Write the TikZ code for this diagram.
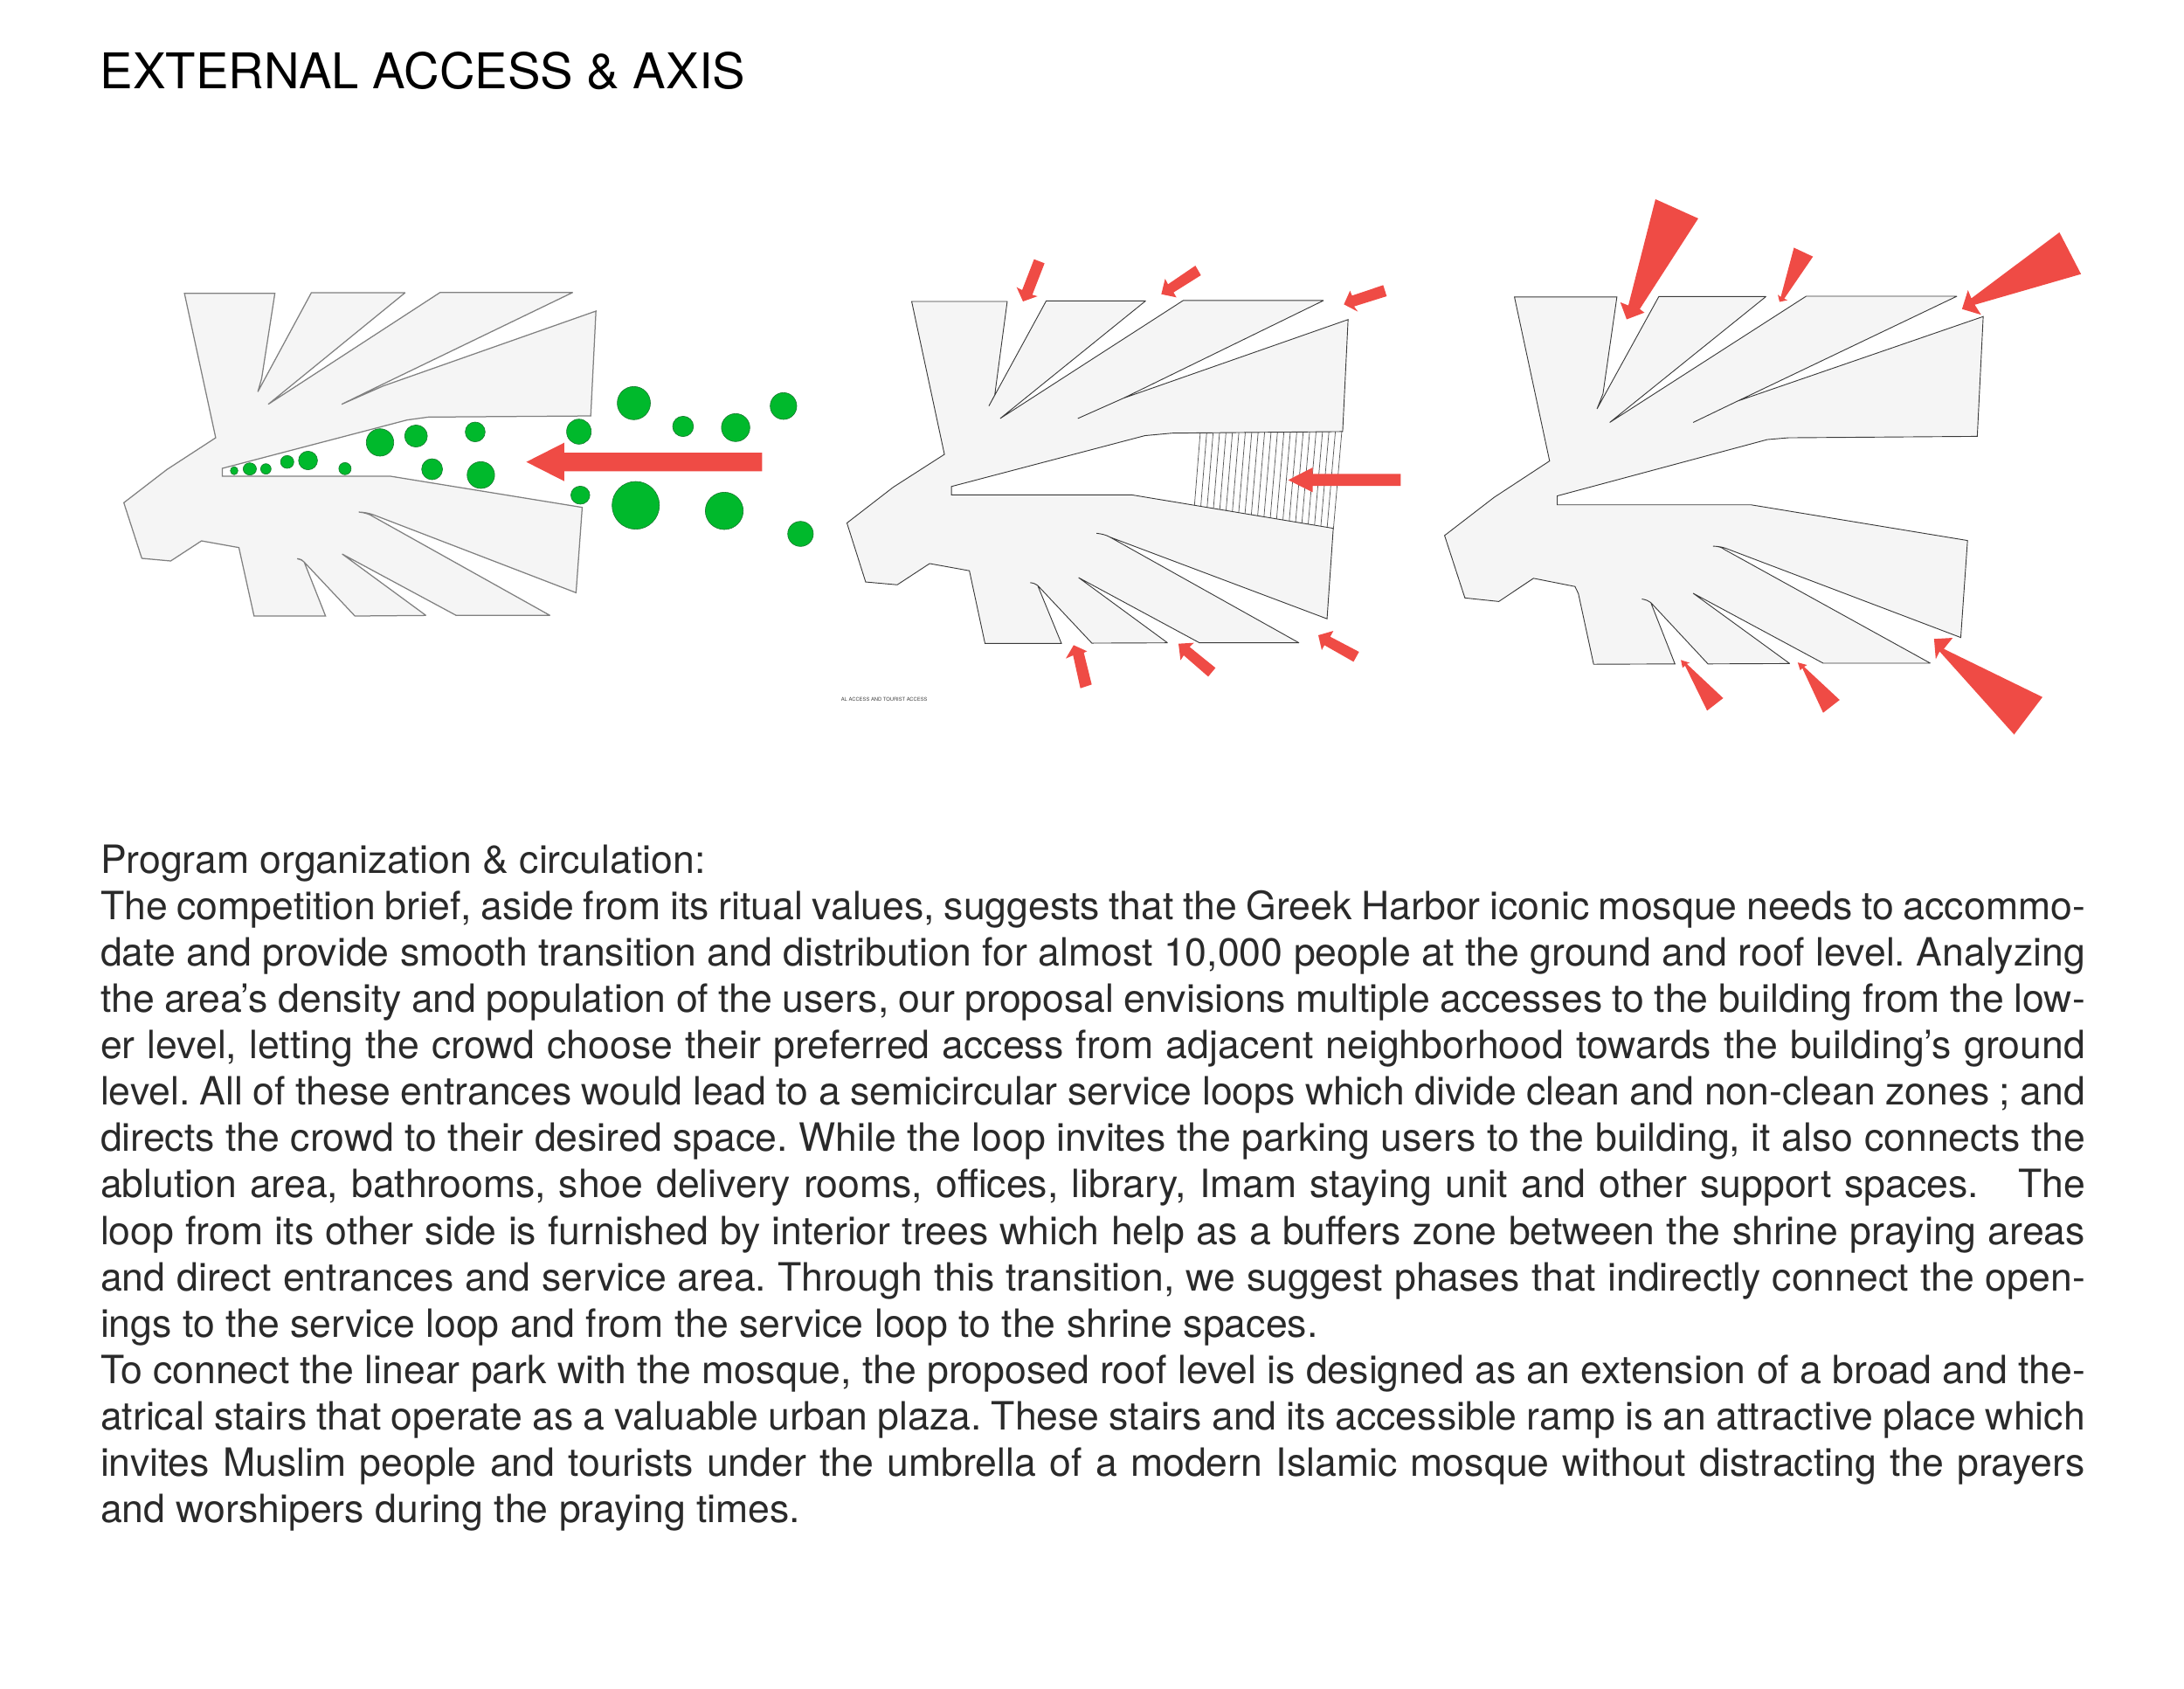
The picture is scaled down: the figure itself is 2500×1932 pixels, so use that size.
\documentclass[tikz,border=0pt]{standalone}
\usepackage{fontspec}
\setmainfont{TeX Gyre Heros}
\definecolor{planfill}{HTML}{F5F5F5}
\definecolor{planlinea}{HTML}{808080}
\definecolor{planlineb}{HTML}{3A3A3A}
\definecolor{hatchgrey}{HTML}{5A5A5A}
\definecolor{redarrow}{HTML}{EF4B45}
\definecolor{greendot}{HTML}{00B92C}
\definecolor{greenedge}{HTML}{157A2E}
\definecolor{bodyink}{HTML}{2A2A2A}
\tikzset{
  plana/.style={fill=planfill,draw=planlinea,line width=0.3pt,line join=miter,miter limit=2},
  planb/.style={fill=planfill,draw=planlineb,line width=0.22pt,line join=miter,miter limit=2},
  hatchline/.style={draw=hatchgrey,line width=0.18pt},
  redshape/.style={fill=redarrow,draw=none},
  dot/.style={fill=greendot,draw=greenedge,line width=0.15pt},
  bodyline/.style={anchor=base west,inner sep=0pt,outer sep=0pt,text=bodyink,font=\fontsize{10.7}{12.7}\selectfont\frenchspacing},
}
\newcommand{\jline}[2]{\node[bodyline] (line#1) at ({115},{999.2+53.1*(#1-1)}) {\makebox[545.28pt][s]{#2}};}
\newcommand{\fline}[2]{\node[bodyline] (line#1) at ({115},{999.2+53.1*(#1-1)}) {#2};}
\begin{document}
\begin{tikzpicture}[x=0.24pt,y=-0.24pt]
\useasboundingbox (0,0) rectangle (2500,1932);
\node[anchor=base west,inner sep=0pt,font=\fontsize{13.5}{16}\selectfont,text=black] (title) at (114,101) {EXTERNAL ACCESS \& AXIS};

% panel 1
\begin{scope}[shift={(100,300)},x=0.13010pt,y=-0.08pt]
\draw[plana] (205,107) -- (396,107) -- (368,400) -- (360,445) -- (473,105) -- (671,105) -- (382,488) -- (745,104) -- (1025,104)
 -- (610,430) -- (537,488) -- (625,425) -- (1074,168) -- (1063,528) -- (720,532) -- (675,542) -- (285,708) -- (285,735) -- (640,735)
 -- (1045,842) -- (1032,1135) -- (605,868) .. controls (595,862) and (585,859) .. (573,858) .. controls (585,860) and (595,864) .. (605,875)
 -- (977,1213) -- (779,1213) -- (538,1002) -- (715,1213) -- (565,1215) -- (458,1030) .. controls (453,1022) and (448,1020) .. (443,1018) .. controls (450,1020) and (455,1022) .. (458,1030)
 -- (503,1215) -- (352,1215) -- (320,980) -- (241,957) -- (176,1026) -- (115,1017) -- (77,826) -- (168,712) -- (271,603) -- cycle;
\foreach \cx/\cy/\rx/\ry in {1154/484/35/57,1470/494/28/46,1258/564/22/35,1369/568/30/48,1038/582/26/43,819/583/21/34,694/597/24/38,618/619/29/47,466/681/20/32,422/686/14/22,343/710/14/21,377/710/11/18,310/716/8/14,544/709/13/21,728/711/22/36,831/731/29/46,1041/800/20/31,1158/835/50/82,1345/854/40/64,1506/933/27/43}
  \draw[dot] (\cx,\cy) ellipse [x radius=\rx,y radius=\ry];
\fill[redshape] (1425,654) -- (1007,654) -- (1007,620) -- (927,686) -- (1007,752) -- (1007,718) -- (1425,718) -- cycle;
\end{scope}

% panel 2 hatching
\foreach \i in {0,...,22}
  \draw[hatchline] ({1374+7.36*\i},494) -- ({1367.3+7.23*\i},{578.3+0.168*7.23*\i});

% panel 2
\begin{scope}[shift={(940,270)},x=0.107143pt,y=-0.085714pt]
\draw[planb] (232,210) -- (477,210) -- (445,510) -- (430,545) -- (577,208) -- (832,208) -- (459,585) -- (928,207) -- (1288,207)
 -- (775,520) -- (658,585) -- (775,520) -- (1351,268) -- (1337,627) -- (900,632) -- (830,640) -- (334,803) -- (334,830) -- (797,830)
 -- (1313,937) -- (1297,1227) -- (740,965) .. controls (730,958) and (720,955) .. (706,953) .. controls (720,955) and (730,958) .. (740,965)
 -- (1225,1304) -- (970,1304) -- (660,1095) -- (888,1304) -- (694,1305) -- (555,1120) .. controls (550,1115) and (545,1113) .. (536,1111) .. controls (545,1113) and (550,1115) .. (555,1120)
 -- (616,1306) -- (420,1306) -- (380,1073) -- (278,1050) -- (195,1118) -- (114,1109) -- (66,920) -- (185,805) -- (316,700) -- cycle;
\end{scope}

% panel 2 arrows (top row)
\begin{scope}[shift={(1150,285)},x=0.08pt,y=-0.08pt]
\fill[redshape] (101,35) -- (137,49) -- (95,157) -- (113,162) -- (63,180) -- (41,131) -- (60,141) -- cycle;
\fill[redshape] (655,57) -- (674,90) -- (580,149) -- (590,166) -- (538,155) -- (551,102) -- (561,121) -- cycle;
\fill[redshape] (1300,124) -- (1312,162) -- (1200,197) -- (1213,215) -- (1165,190) -- (1186,143) -- (1193,160) -- cycle;
\end{scope}
% panel 2 arrows (bottom row)
\begin{scope}[shift={(1200,720)},x=0.08pt,y=-0.08pt]
\fill[redshape] (87,55) -- (133,76) -- (122,81) -- (149,190) -- (110,203) -- (85,90) -- (60,101) -- cycle;
\fill[redshape] (447,50) -- (500,47) -- (485,61) -- (574,133) -- (549,163) -- (465,90) -- (454,107) -- cycle;
\fill[redshape] (927,21) -- (979,6) -- (968,26) -- (1067,78) -- (1048,112) -- (948,55) -- (939,72) -- cycle;
\end{scope}
% panel 2 main arrow
\begin{scope}[shift={(1350,480)},x=0.08pt,y=-0.08pt]
\fill[redshape] (374,208) -- (458,165) -- (458,187) -- (760,187) -- (760,228) -- (458,228) -- (458,250) -- cycle;
\end{scope}
\node[anchor=base west,inner sep=0pt,font=\fontsize{1.4}{2}\selectfont,text=black!75] (tinylabel) at (962,802) {AL ACCESS AND TOURIST ACCESS};

% panel 3
\begin{scope}[shift={(1640,210)},x=0.116327pt,y=-0.097959pt]
\draw[planb] (193,318) -- (435,318) -- (402,590) -- (388,632) -- (534,317) -- (787,317) -- (418,670) -- (882,316) -- (1238,316)
 -- (720,610) -- (615,670) -- (720,610) -- (1300,373) -- (1286,709) -- (840,713) -- (790,718) -- (294,876) -- (294,901) -- (752,901)
 -- (1263,1001) -- (1247,1273) -- (690,1022) .. controls (682,1019) and (672,1017) .. (662,1017) .. controls (672,1017) and (682,1019) .. (690,1027)
 -- (1175,1345) -- (922,1345) -- (615,1149) -- (843,1346) -- (650,1347) -- (515,1175) .. controls (510,1170) and (503,1167) .. (494,1165) .. controls (503,1167) and (510,1170) .. (515,1175)
 -- (572,1347) -- (380,1348) -- (344,1150) -- (336,1130) -- (238,1107) -- (156,1172) -- (76,1162) -- (28,987) -- (145,880) -- (276,778) -- cycle;
\fill[redshape] (526,44) -- (627,98) -- (489,352) -- (500,362) -- (458,381) -- (443,333) -- (462,342) -- cycle;
\fill[redshape] (853,180) -- (898,205) -- (830,323) -- (838,327) -- (819,332) -- (815,312) -- (822,318) -- cycle;
\fill[redshape] (1480,137) -- (1531,254) -- (1280,340) -- (1295,368) -- (1250,352) -- (1264,299) -- (1272,322) -- cycle;
\fill[redshape] (1440,1440) -- (1373,1545) -- (1197,1312) -- (1188,1334) -- (1184,1277) -- (1228,1274) -- (1207,1305) -- cycle;
\fill[redshape] (686,1443) -- (648,1478) -- (596,1352) -- (590,1358) -- (586,1336) -- (607,1344) -- (600,1347) -- cycle;
\fill[redshape] (961,1448) -- (922,1484) -- (873,1359) -- (868,1365) -- (862,1343) -- (884,1350) -- (877,1355) -- cycle;
\end{scope}

% body text
\fline{1}{Program organization \& circulation:}
\jline{2}{The competition brief, aside from its ritual values, suggests that the Greek Harbor iconic mosque needs to accommo-}
\jline{3}{date and provide smooth transition and distribution for almost 10,000 people at the ground and roof level. Analyzing}
\jline{4}{the area’s density and population of the users, our proposal envisions multiple accesses to the building from the low-}
\jline{5}{er level, letting the crowd choose their preferred access from adjacent neighborhood towards the building’s ground}
\jline{6}{level. All of these entrances would lead to a semicircular service loops which divide clean and non-clean zones ; and}
\jline{7}{directs the crowd to their desired space. While the loop invites the parking users to the building, it also connects the}
\jline{8}{ablution area, bathrooms, shoe delivery rooms, offices, library, Imam staying unit and other support spaces. \ \ The}
\jline{9}{loop from its other side is furnished by interior trees which help as a buffers zone between the shrine praying areas}
\jline{10}{and direct entrances and service area. Through this transition, we suggest phases that indirectly connect the open-}
\fline{11}{ings to the service loop and from the service loop to the shrine spaces.}
\jline{12}{To connect the linear park with the mosque, the proposed roof level is designed as an extension of a broad and the-}
\jline{13}{atrical stairs that operate as a valuable urban plaza. These stairs and its accessible ramp is an attractive place which}
\jline{14}{invites Muslim people and tourists under the umbrella of a modern Islamic mosque without distracting the prayers}
\fline{15}{and worshipers during the praying times.}
\end{tikzpicture}
\end{document}
